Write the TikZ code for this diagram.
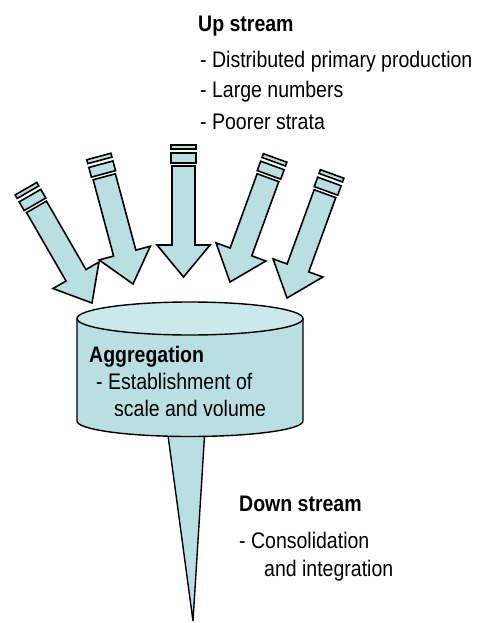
\documentclass[tikz,border=0pt]{standalone}
\usepackage{fontspec}
\setmainfont{Liberation Sans}[FakeStretch=0.867]
\definecolor{arrowfill}{RGB}{185,223,227}
\definecolor{topfill}{RGB}{203,232,235}
\tikzset{
  arrowline/.style={draw=black, line width=1.6pt, fill=arrowfill},
  cylline/.style={draw=black, line width=1.4pt},
  txt/.style={font=\fontsize{22.5}{26}\selectfont, inner sep=0pt, anchor=base west},
  hdr/.style={txt, font=\fontsize{22.5}{26}\selectfont\bfseries},
  feedarrow/.pic={
    \draw[arrowline] (0,0) -- (26.5,-32) -- (11.5,-32) -- (11.5,-111) -- (-11.5,-111)
      -- (-11.5,-32) -- (-26.5,-32) -- cycle;
    \draw[arrowline] (-12.5,-114) rectangle (12.5,-124);
    \draw[arrowline] (-12.5,-128) rectangle (12.5,-132);
  }
}
\begin{document}
\begin{tikzpicture}[x=1pt,y=-1pt]
\useasboundingbox (0,0) rectangle (479,623);
% incoming arrows
\pic[rotate=30]  at (92,303)  {feedarrow};
\pic[rotate=15]  at (133,284) {feedarrow};
\pic             at (183.5,277) {feedarrow};
\pic[rotate=-20] at (230,282) {feedarrow};
\pic[rotate=-20] at (287,298) {feedarrow};
% spike
\draw[arrowline, line width=1.4pt] (167,428) -- (193,621) -- (205,428);
% cylinder
\fill[arrowfill] (77,318) -- (77,421) arc[start angle=180, end angle=0, x radius=113, y radius=15.5] -- (303,318) -- cycle;
\draw[cylline] (77,318) -- (77,421) arc[start angle=180, end angle=0, x radius=113, y radius=15.5] -- (303,318);
\draw[cylline, fill=topfill] (190,318.5) ellipse [x radius=113, y radius=16.5];
% cylinder text
\node[hdr] (agg) at (89,362) {Aggregation};
\node[txt] (est) at (96,389) {- Establishment of};
\begin{scope}
  \clip (80,395) rectangle (300,415.5);
  \node[txt] (scl) at (114,416.5) {scale and volume};
\end{scope}
% up stream
\node[hdr] (up) at (198,32) {Up stream};
\node[txt] (u1) at (200,68) {- Distributed primary production};
\node[txt] (u2) at (200,98) {- Large numbers};
\node[txt] (u3) at (200,129) {- Poorer strata};
% down stream
\node[hdr] (down) at (239,511) {Down stream};
\node[txt] (d1) at (239,548) {- Consolidation};
\node[txt] (d2) at (264,576) {and integration};
\end{tikzpicture}
\end{document}
